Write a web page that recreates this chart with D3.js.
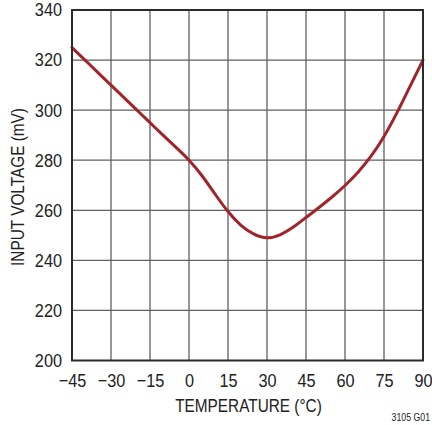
<!DOCTYPE html>
<html>
<head>
<meta charset="utf-8">
<script src="https://cdn.jsdelivr.net/npm/d3@7"></script>
<style>
  html, body { margin: 0; padding: 0; background: #fff; }
  svg { display: block; }
  text { font-family: "Liberation Sans", Arial, sans-serif; fill: #222; }
</style>
</head>
<body>
<svg id="chart" width="432" height="425"></svg>
<script>
// Input voltage vs temperature
const temperature = [-45, -40, -35, -30, -25, -20, -15, -10, -5, 0, 5, 10, 15, 20, 25, 30, 35, 40, 45, 50, 55, 60, 65, 70, 75, 80, 85, 90];
const inputVoltage = [325, 320, 315, 310, 305, 300, 295, 290, 285.1, 280, 273.8, 266.5, 259.5, 254, 250.5, 249, 250.2, 253.2, 257.1, 261.1, 265.3, 269.9, 275.2, 281.6, 289.5, 299, 309.5, 320];
const xTicks = [-45, -30, -15, 0, 15, 30, 45, 60, 75, 90];
const yTicks = [200, 220, 240, 260, 280, 300, 320, 340];

const svg = d3.select("#chart");
const plotL = 72, plotR = 423, plotT = 10, plotB = 360.5;
// condensed look for the lettering
const tickSX = 0.88, titleSX = 0.83;

const x = d3.scaleLinear().domain([-45, 90]).range([plotL, plotR]);
const y = d3.scaleLinear().domain([200, 340]).range([plotB, plotT]);

// grid
const grid = svg.append("g").attr("stroke", "#616161").attr("stroke-width", 1.3);
grid.selectAll("line.vx").data(xTicks.slice(1, -1)).join("line")
  .attr("x1", d => x(d)).attr("x2", d => x(d)).attr("y1", plotT).attr("y2", plotB);
grid.selectAll("line.hy").data(yTicks.slice(1, -1)).join("line")
  .attr("x1", plotL).attr("x2", plotR).attr("y1", d => y(d)).attr("y2", d => y(d));

// curve
const line = d3.line()
  .x((d, i) => x(temperature[i]))
  .y(d => y(d))
  .curve(d3.curveNatural);
svg.append("path")
  .datum(inputVoltage)
  .attr("d", line)
  .attr("fill", "none")
  .attr("stroke", "#a3232b")
  .attr("stroke-width", 3)
  .attr("stroke-linejoin", "round")
  .attr("stroke-linecap", "round");

// frame
svg.append("rect")
  .attr("x", plotL).attr("y", plotT)
  .attr("width", plotR - plotL).attr("height", plotB - plotT)
  .attr("fill", "none").attr("stroke", "#2b2b2b").attr("stroke-width", 2);

// axes labels
const fmt = d => (d < 0 ? "\u2212" + Math.abs(d) : String(d));
const yAxis = d3.axisLeft(y).tickValues(yTicks).tickSize(0).tickPadding(10);
svg.append("g").attr("transform", `translate(${plotL},0)`).call(yAxis)
  .call(g => g.select(".domain").remove())
  .selectAll("text")
  .attr("font-size", 18.5).attr("font-family", null).attr("fill", "#222")
  .attr("x", -10 / tickSX).attr("transform", `scale(${tickSX},1)`);

const xAxis = d3.axisBottom(x).tickValues(xTicks).tickFormat(fmt).tickSize(0).tickPadding(0);
svg.append("g").attr("transform", `translate(0,${plotB})`).call(xAxis)
  .call(g => g.select(".domain").remove())
  .selectAll("text")
  .attr("font-size", 18.5).attr("font-family", null).attr("fill", "#222")
  .attr("y", 26.5).attr("dy", null)
  .attr("transform", `scale(${tickSX},1)`);

svg.append("text")
  .attr("transform", `translate(${(plotL + plotR) / 2 + 1},412.3) scale(${titleSX},1)`)
  .attr("text-anchor", "middle").attr("font-size", 18.5)
  .text("TEMPERATURE (\u00B0C)");

svg.append("text")
  .attr("transform", `translate(24,187) rotate(-90) scale(${titleSX},1)`)
  .attr("text-anchor", "middle").attr("font-size", 18.5)
  .text("INPUT VOLTAGE (mV)");

svg.append("text")
  .attr("transform", "translate(430,420.7) scale(0.85,1)")
  .attr("text-anchor", "end").attr("font-size", 10.3)
  .text("3105 G01");
</script>
</body>
</html>
